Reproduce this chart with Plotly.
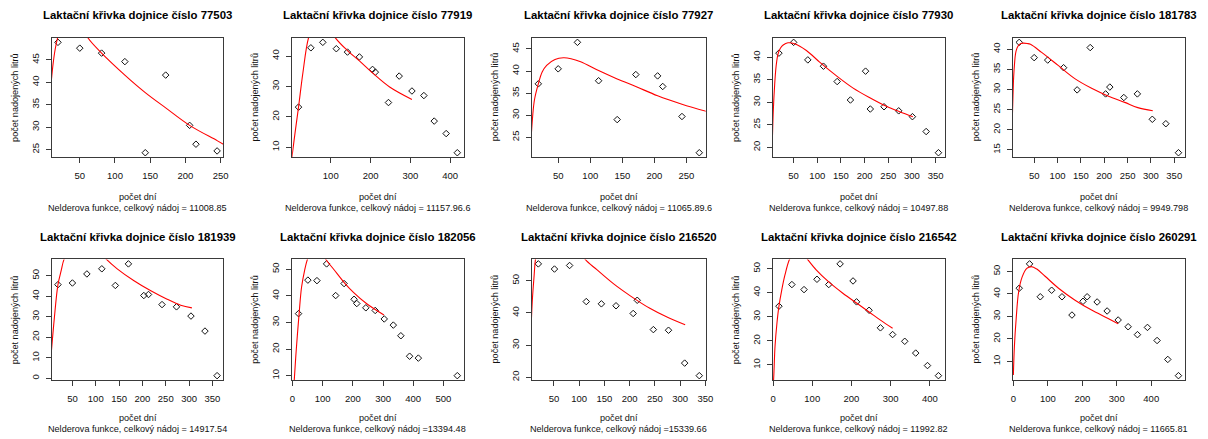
import plotly.graph_objects as go

# ---------------- data ----------------
COW_IDS = ["77503", "77919", "77927", "77930", "181783",
           "181939", "182056", "216520", "216542", "260291"]
SUBTITLES = [
    "Nelderova funkce, celkový nádoj = 11008.85",
    "Nelderova funkce, celkový nádoj = 11157.96.6",
    "Nelderova funkce, celkový nádoj = 11065.89.6",
    "Nelderova funkce, celkový nádoj = 10497.88",
    "Nelderova funkce, celkový nádoj = 9949.798",
    "Nelderova funkce, celkový nádoj = 14917.54",
    "Nelderova funkce, celkový nádoj =13394.48",
    "Nelderova funkce, celkový nádoj =15339.66",
    "Nelderova funkce, celkový nádoj = 11992.82",
    "Nelderova funkce, celkový nádoj = 11665.81",
]

days_77503 = [19, 50, 81, 114, 143, 172, 206, 215, 245]
milk_77503 = [48.9, 47.6, 46.5, 44.6, 24.3, 41.6, 30.4, 26.2, 24.7]
fit_days_77503 = [6, 9, 12, 15, 18.5, 25, 35, 45, 55, 62, 81, 114, 143, 172, 206, 245, 256]
fit_milk_77503 = [35.5, 39.5, 44, 47.3, 49.9, 53, 55, 54.5, 52, 49.8, 46.5, 41.6, 37.7, 34.3, 30.4, 27.0, 26.0]

days_77919 = [19, 50, 80, 114, 142, 172, 205, 212, 245, 272, 304, 334, 360, 390, 418]
milk_77919 = [23.2, 42.7, 44.5, 42.4, 41.3, 39.7, 35.6, 34.7, 24.7, 33.4, 28.5, 27.0, 18.6, 14.5, 8.2]
fit_days_77919 = [0, 2.5, 10, 19, 30, 44, 60, 75, 90, 112, 142, 172, 207, 248, 304]
fit_milk_77919 = [4.3, 6.8, 14.5, 23.2, 34.5, 45.9, 51, 52.3, 50.5, 45.9, 41.8, 38.4, 34.2, 29.8, 25.7]

days_77927 = [19, 50, 80, 113, 142, 171, 205, 213, 243, 270]
milk_77927 = [37.1, 40.5, 46.5, 37.8, 29.0, 39.2, 38.9, 36.5, 29.7, 21.5]
fit_days_77927 = [5, 8, 10, 13, 19, 25, 32, 45, 58, 70, 85, 113, 142, 171, 205, 243, 283]
fit_milk_77927 = [19.5, 25.4, 29.5, 33.5, 37.1, 39.8, 41.3, 42.6, 43.0, 42.8, 42.1, 40.1, 38.2, 36.5, 34.4, 32.5, 30.8]

days_77930 = [19, 50, 80, 113, 142, 170, 202, 212, 241, 272, 301, 330, 356]
milk_77930 = [40.9, 43.3, 39.4, 38.0, 34.6, 30.5, 36.9, 28.5, 29.0, 28.1, 26.8, 23.5, 18.8]
fit_days_77930 = [2, 5, 7, 10, 13, 17, 22, 28, 38, 52, 77, 105, 140, 175, 211, 246, 274, 302]
fit_milk_77930 = [12, 21.5, 28, 34, 38, 40.7, 42.0, 42.7, 43.2, 43.0, 41.5, 38.9, 35.9, 33.2, 31.0, 29.1, 27.9, 26.8]

days_181783 = [18, 50, 79, 113, 142, 170, 203, 212, 242, 271, 303, 332, 359]
milk_181783 = [41.7, 37.9, 37.3, 35.4, 29.9, 40.4, 28.9, 30.6, 28.0, 28.9, 22.6, 21.5, 14.3]
fit_days_181783 = [2, 4.6, 6, 8, 10, 13, 17, 22, 27, 35, 42, 66, 102, 137, 173, 208, 244, 272, 304]
fit_milk_181783 = [18, 28.4, 33, 36.5, 38.8, 40.2, 41.0, 41.4, 41.5, 41.4, 41.2, 39.2, 35.9, 32.7, 30.3, 28.4, 26.8, 25.5, 24.7]

days_181939 = [19, 50, 81, 113, 142, 170, 203, 213, 242, 273, 304, 334, 360]
milk_181939 = [45.6, 46.4, 50.8, 53.3, 45.2, 55.7, 40.3, 40.8, 35.9, 34.8, 30.3, 23.0, 1.3]
fit_days_181939 = [1, 4, 11, 19, 26, 32, 45, 60, 75, 90, 105, 123, 146, 182, 218, 253, 282, 306]
fit_milk_181939 = [3, 10.7, 28.7, 45.6, 52.5, 57.9, 63, 65.5, 66, 65, 62.5, 57.9, 53.3, 47.5, 42.6, 38.5, 35.6, 34.3]

days_182056 = [20, 51, 81, 113, 143, 171, 204, 213, 243, 274, 304, 334, 359, 388, 417, 546]
milk_182056 = [33.3, 45.9, 45.7, 52.0, 40.1, 44.6, 38.7, 37.1, 35.5, 34.5, 31.3, 29.0, 25.0, 17.3, 16.6, 10.0]
fit_days_182056 = [2, 5.5, 12, 22, 30, 40, 50, 65, 80, 95, 109, 137, 172, 202, 246, 303]
fit_milk_182056 = [2, 7.7, 19, 33.4, 43.2, 49.5, 53.9, 57.5, 58.5, 57.0, 53.9, 49.9, 44.9, 41.3, 37.0, 32.8]

days_216520 = [19, 51, 81, 114, 144, 173, 207, 215, 247, 277, 309, 338]
milk_216520 = [55.2, 53.6, 54.7, 43.5, 42.8, 42.2, 39.8, 43.9, 34.8, 34.6, 24.4, 20.5]
fit_days_216520 = [3, 5.3, 7.3, 10.7, 13.3, 20, 35, 55, 75, 95, 112, 135, 169, 202, 240, 275, 310]
fit_milk_216520 = [30, 38, 44.3, 51.6, 56.6, 62, 66, 67, 65, 61, 56.6, 53.4, 48.9, 45.2, 41.4, 38.6, 36.3]

days_216542 = [15, 48, 79, 112, 142, 171, 204, 213, 245, 274, 305, 336, 364, 394, 422]
milk_216542 = [34.4, 43.4, 41.3, 45.6, 43.4, 52.0, 44.9, 36.2, 32.7, 25.4, 22.6, 19.8, 14.9, 9.7, 5.5]
fit_days_216542 = [0, 2, 5, 10, 15, 22, 30, 42, 52, 64, 76, 88, 110, 142, 178, 213, 245, 274, 305]
fit_milk_216542 = [0, 6, 17.7, 27.5, 34.4, 41, 47.2, 53.9, 56.5, 57.5, 56.5, 53.9, 49.5, 44.5, 39.8, 35.7, 32.0, 28.6, 25.2]

days_260291 = [17, 47, 78, 111, 141, 170, 202, 214, 243, 272, 304, 333, 360, 389, 417, 448, 479]
milk_260291 = [42.5, 53.3, 38.7, 41.6, 38.7, 30.6, 36.7, 38.7, 36.4, 32.4, 28.4, 25.4, 21.9, 25.1, 19.3, 10.9, 3.7]
fit_days_260291 = [0, 3, 8, 15, 25, 39, 52, 68, 92, 131, 179, 227, 275, 304]
fit_milk_260291 = [4, 16.7, 28.7, 40.6, 47.3, 51.3, 52.1, 51.0, 47.8, 42.5, 37.2, 32.8, 29.1, 26.7]

DAYS = [days_77503, days_77919, days_77927, days_77930, days_181783,
        days_181939, days_182056, days_216520, days_216542, days_260291]
MILK = [milk_77503, milk_77919, milk_77927, milk_77930, milk_181783,
        milk_181939, milk_182056, milk_216520, milk_216542, milk_260291]
FIT_DAYS = [fit_days_77503, fit_days_77919, fit_days_77927, fit_days_77930, fit_days_181783,
            fit_days_181939, fit_days_182056, fit_days_216520, fit_days_216542, fit_days_260291]
FIT_MILK = [fit_milk_77503, fit_milk_77919, fit_milk_77927, fit_milk_77930, fit_milk_181783,
            fit_milk_181939, fit_milk_182056, fit_milk_216520, fit_milk_216542, fit_milk_260291]

X_DTICK = [50, 100, 50, 50, 50, 50, 100, 50, 100, 100]
Y_DTICK = [5, 10, 5, 5, 5, 10, 10, 10, 10, 10]

# ---------------- layout geometry (pixels) ----------------
W, H = 1208, 439
COLS = [(50, 223.3), (292.6, 465.5), (534.3, 709.6), (777, 950.7), (1019.3, 1192.7)]
ROWS = [(38, 157.5), (260, 381)]
TITLE_Y = [15, 237.3]
XLAB_Y = [197, 419]
SUB_Y = [208.3, 430]

FONT = "Liberation Sans, Arial, sans-serif"
AXC = "#3a3a3a"


def r_range(v):
    lo, hi = min(v), max(v)
    d = (hi - lo) * 0.04
    return [lo - d, hi + d]


fig = go.Figure()
layout = {}
annotations = []
for i in range(10):
    r, c = divmod(i, 5)
    xl, xr = COLS[c]
    yt, yb = ROWS[r]
    sfx = "" if i == 0 else str(i + 1)
    xa, ya = "x" + sfx, "y" + sfx

    fig.add_trace(go.Scatter(
        x=DAYS[i], y=MILK[i], mode="markers", xaxis=xa, yaxis=ya,
        marker=dict(symbol="diamond-open", size=5, color="#111", line=dict(width=1, color="#111")),
        cliponaxis=False, showlegend=False, hoverinfo="x+y"))
    fig.add_trace(go.Scatter(
        x=FIT_DAYS[i], y=FIT_MILK[i], mode="lines", xaxis=xa, yaxis=ya,
        line=dict(color="#ff0000", width=1.1, shape="spline", smoothing=1.0),
        showlegend=False, hoverinfo="skip"))

    common = dict(showline=True, mirror=True, linecolor=AXC, linewidth=1,
                  ticks="outside", ticklen=5, tickwidth=1, tickcolor=AXC,
                  showgrid=False, zeroline=False, tick0=0,
                  tickfont=dict(family=FONT, size=9.5, color="#111"))
    layout["xaxis" + sfx] = dict(common, domain=[xl / W, xr / W], anchor=ya,
                                 range=r_range(DAYS[i]), dtick=X_DTICK[i],
                                 ticklabelstandoff=4)
    layout["yaxis" + sfx] = dict(common, domain=[1 - yb / H, 1 - yt / H], anchor=xa,
                                 range=r_range(MILK[i]), dtick=Y_DTICK[i],
                                 tickangle=-90, ticklabelstandoff=3)

    cx = (xl + xr) / 2 / W
    annotations.append(dict(text="<b>Laktační křivka dojnice číslo %s</b>" % COW_IDS[i],
                            x=cx, y=1 - TITLE_Y[r] / H, xref="paper", yref="paper",
                            xanchor="center", yanchor="middle", showarrow=False,
                            font=dict(family=FONT, size=11.4, color="#000")))
    annotations.append(dict(text="počet dní", x=cx, y=1 - XLAB_Y[r] / H,
                            xref="paper", yref="paper", xanchor="center", yanchor="middle",
                            showarrow=False, font=dict(family=FONT, size=9.1, color="#111")))
    annotations.append(dict(text=SUBTITLES[i], x=cx, y=1 - SUB_Y[r] / H,
                            xref="paper", yref="paper", xanchor="center", yanchor="middle",
                            showarrow=False, font=dict(family=FONT, size=9.1, color="#111")))
    annotations.append(dict(text="počet nadojených litrů", x=(xl - 37.5) / W,
                            y=1 - (yt + yb) / 2 / H, xref="paper", yref="paper",
                            xanchor="center", yanchor="middle", textangle=-90,
                            showarrow=False, font=dict(family=FONT, size=9.1, color="#111")))

fig.update_layout(width=W, height=H, margin=dict(l=0, r=0, t=0, b=0),
                  paper_bgcolor="white", plot_bgcolor="white",
                  annotations=annotations, showlegend=False, **layout)
fig.write_html("out.html", config={"displayModeBar": False},
               post_script="document.body.style.margin='0';document.body.style.overflow='hidden';")
